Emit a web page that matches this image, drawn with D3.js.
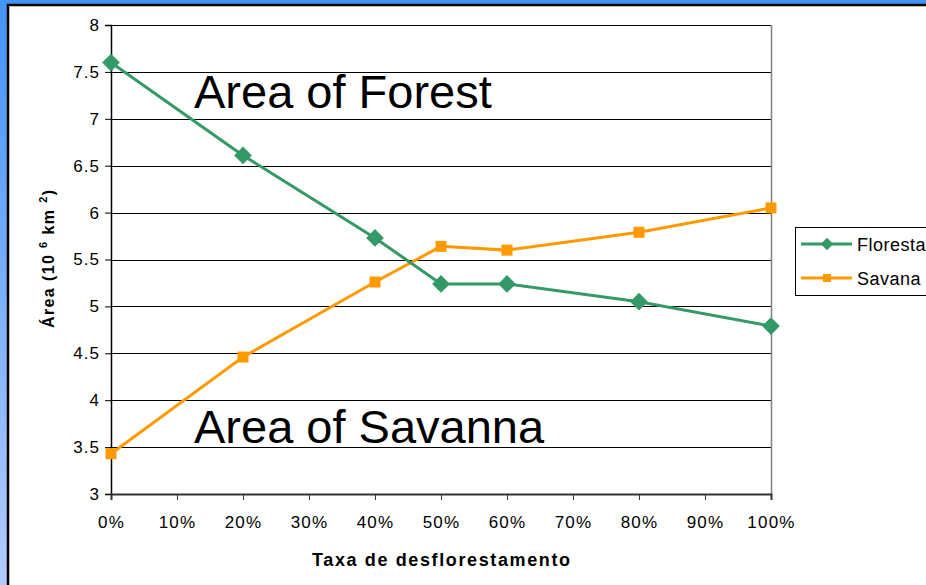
<!DOCTYPE html>
<html lang="pt">

<head>
    <meta charset="UTF-8">
    <title>Área de floresta e savana</title>
    <script src="https://cdnjs.cloudflare.com/ajax/libs/d3/7.8.5/d3.min.js"></script>
    <style>
        body {
            margin: 0;
            background: #fff;
        }

        svg {
            display: block;
        }

        svg text {
            font-family: "Liberation Sans", Arial, sans-serif;
            fill: #000;
        }

        .grid line {
            stroke: #000;
            stroke-width: 1;
        }
    </style>
</head>

<body>
    <div class="chart"></div>
    <script>
        // taxa de desflorestamento (%)
        const taxa = [0, 20, 40, 50, 60, 80, 100];
        const floresta = [7.6, 6.61, 5.73, 5.24, 5.24, 5.05, 4.79];
        const savana = [3.43, 4.46, 5.26, 5.64, 5.60, 5.79, 6.05];
        const yTicks = [3, 3.5, 4, 4.5, 5, 5.5, 6, 6.5, 7, 7.5, 8];
        const xTicks = [0, 10, 20, 30, 40, 50, 60, 70, 80, 90, 100];

        const width = 926,
            height = 585;
        const plot = { left: 111, right: 771, top: 25, bottom: 494 };

        const svg = d3.select('.chart')
            .append('svg')
            .attr('width', width)
            .attr('height', height);

        // blue frame around the slide
        const defs = svg.append('defs');
        const grad = defs.append('linearGradient')
            .attr('id', 'side')
            .attr('x1', 0).attr('y1', 0).attr('x2', 0).attr('y2', 1);
        grad.append('stop').attr('offset', '0%').attr('stop-color', '#4294f7');
        grad.append('stop').attr('offset', '100%').attr('stop-color', '#b3cbff');

        svg.append('rect').attr('x', 0).attr('y', 0).attr('width', width).attr('height', height).attr('fill', 'url(#side)');
        svg.append('rect').attr('x', 0).attr('y', 0).attr('width', width).attr('height', 6).attr('fill', '#4294f7');
        svg.append('rect').attr('x', 8).attr('y', 5).attr('width', width).attr('height', height)
            .attr('fill', '#fff').attr('stroke', '#000').attr('stroke-width', 2.5);

        const x = d3.scaleLinear().domain([0, 100]).range([plot.left, plot.right]);
        const y = d3.scaleLinear().domain([3, 8]).range([plot.bottom, plot.top]);

        // horizontal gridlines
        svg.append('g')
            .attr('class', 'grid')
            .selectAll('line')
            .data(yTicks.slice(1))
            .enter()
            .append('line')
            .attr('x1', plot.left)
            .attr('x2', plot.right)
            .attr('y1', d => Math.round(y(d)) + 0.5)
            .attr('y2', d => Math.round(y(d)) + 0.5);

        // right edge of the plot area
        svg.append('line')
            .attr('x1', plot.right + 0.5).attr('x2', plot.right + 0.5)
            .attr('y1', plot.top).attr('y2', plot.bottom)
            .attr('stroke', '#808080').attr('stroke-width', 1.5);

        const yAxis = svg.append('g')
            .attr('transform', `translate(${plot.left},0)`)
            .call(d3.axisLeft(y).tickValues(yTicks).tickSize(6).tickPadding(5).tickFormat(d3.format('')));
        yAxis.attr('font-family', null).attr('font-size', 17).attr('letter-spacing', 1);
        yAxis.select('.domain').attr('stroke', '#000').attr('stroke-width', 1.5);
        yAxis.selectAll('.tick line').attr('stroke', '#000');

        const xAxis = svg.append('g')
            .attr('transform', `translate(0,${plot.bottom})`)
            .call(d3.axisBottom(x).tickValues(xTicks).tickSize(6).tickPadding(16).tickFormat(d => d + '%'));
        xAxis.attr('font-family', null).attr('font-size', 17).attr('letter-spacing', 1.2);
        xAxis.select('.domain').attr('stroke', '#333').attr('stroke-width', 2);
        xAxis.selectAll('.tick line').attr('stroke', '#333');

        // axis titles
        svg.append('text')
            .attr('transform', 'translate(54,259) rotate(-90)')
            .attr('x', -69)
            .attr('font-size', 16)
            .attr('font-weight', 'bold')
            .attr('textLength', 138)
            .attr('lengthAdjust', 'spacing')
            .html('Área (10 <tspan font-size="11" dy="-7">6</tspan><tspan dy="7"> km </tspan><tspan font-size="11" dy="-7">2</tspan><tspan dy="7">)</tspan>');

        svg.append('text')
            .attr('x', 312)
            .attr('y', 566)
            .attr('font-size', 18)
            .attr('font-weight', 'bold')
            .attr('textLength', 258)
            .attr('lengthAdjust', 'spacing')
            .text('Taxa de desflorestamento');

        // series
        const green = '#339966',
            orange = '#ff9900';
        const line = d3.line()
            .x(d => x(d[0]))
            .y(d => y(d[1]));

        const florestaPts = taxa.map((t, i) => [t, floresta[i]]);
        const savanaPts = taxa.map((t, i) => [t, savana[i]]);

        svg.append('path')
            .datum(savanaPts)
            .attr('d', line)
            .attr('fill', 'none')
            .attr('stroke', orange)
            .attr('stroke-width', 3);

        svg.append('path')
            .datum(florestaPts)
            .attr('d', line)
            .attr('fill', 'none')
            .attr('stroke', green)
            .attr('stroke-width', 3);

        const diamond = d3.symbol().type(d3.symbolDiamond2).size(200);
        const square = d3.symbol().type(d3.symbolSquare).size(121);

        svg.selectAll('.sav')
            .data(savanaPts)
            .enter()
            .append('path')
            .attr('class', 'sav')
            .attr('d', square)
            .attr('transform', d => `translate(${x(d[0])},${y(d[1])})`)
            .attr('fill', orange);

        svg.selectAll('.flo')
            .data(florestaPts)
            .enter()
            .append('path')
            .attr('class', 'flo')
            .attr('d', diamond)
            .attr('transform', d => `translate(${x(d[0])},${y(d[1])})`)
            .attr('fill', green);

        // big labels
        svg.append('text')
            .attr('x', 194)
            .attr('y', 108)
            .attr('font-size', 47)
            .text('Area of Forest');
        svg.append('text')
            .attr('x', 194)
            .attr('y', 443)
            .attr('font-size', 47)
            .text('Area of Savanna');

        // legend
        const legend = svg.append('g');
        legend.append('rect')
            .attr('x', 795.5).attr('y', 227.5)
            .attr('width', 140).attr('height', 68)
            .attr('fill', '#fff').attr('stroke', '#000');

        const items = [
            { name: 'Floresta', color: green, sym: d3.symbol().type(d3.symbolDiamond2).size(100), ly: 244 },
            { name: 'Savana', color: orange, sym: d3.symbol().type(d3.symbolSquare).size(64), ly: 278 }
        ];
        items.forEach(it => {
            legend.append('line')
                .attr('x1', 801).attr('x2', 852)
                .attr('y1', it.ly).attr('y2', it.ly)
                .attr('stroke', it.color).attr('stroke-width', 3);
            legend.append('path')
                .attr('d', it.sym())
                .attr('transform', `translate(827,${it.ly})`)
                .attr('fill', it.color);
            legend.append('text')
                .attr('x', 857)
                .attr('y', it.ly + 7)
                .attr('font-size', 18)
                .attr('letter-spacing', 0.5)
                .text(it.name);
        });
    </script>
</body>

</html>
